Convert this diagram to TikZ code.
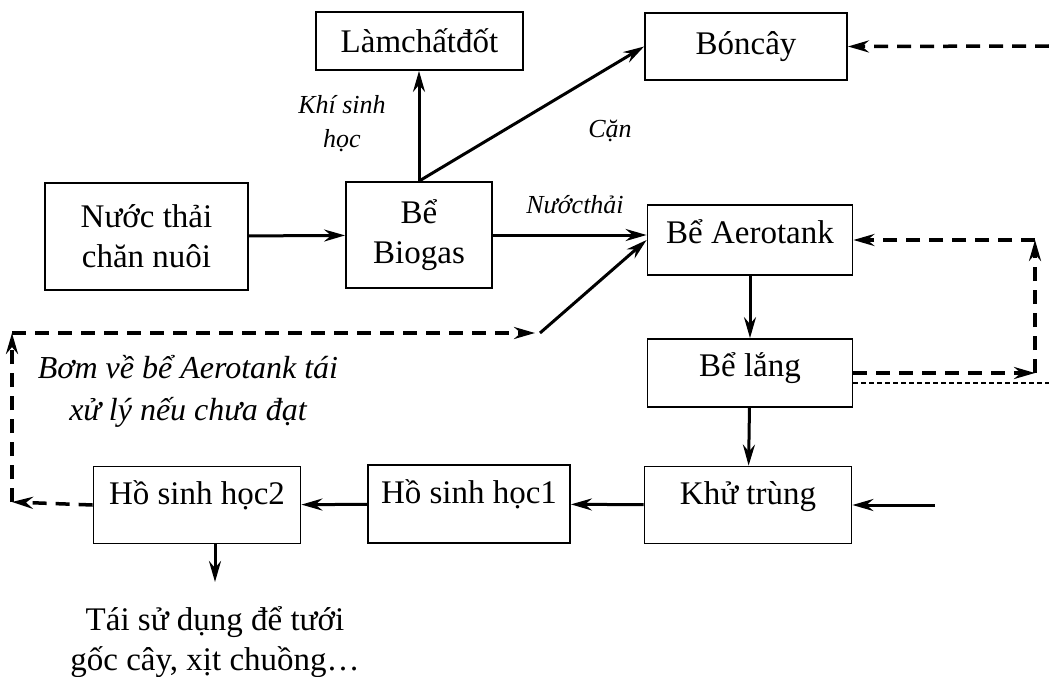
\documentclass[tikz,border=0pt]{standalone}
\usepackage{fontspec}
\setmainfont{Liberation Serif}
\usetikzlibrary{arrows.meta}
\tikzset{
  box/.style={draw,line width=1.8pt,inner sep=0pt,align=center,font=\fontsize{33}{40}\selectfont},
  lbl/.style={align=center,font=\fontsize{26}{42}\selectfont\itshape},
  flow/.style={->,line width=3pt},
  back/.style={->,line width=3.5pt,dash pattern=on 14pt off 9pt},
}
\begin{document}
\begin{tikzpicture}[x=1pt,y=-1pt,>={Stealth[length=21pt,width=12pt,inset=7pt]}]
\useasboundingbox (0,0) rectangle (1049,677);
\node[box,minimum width=207pt,minimum height=58pt] (fuel) at (419.5,41) {Làmchấtđốt};
\node[box,minimum width=202pt,minimum height=67pt] (fert) at (746,46.5) {Bóncây};
\node[box,minimum width=203pt,minimum height=107pt] (waste) at (146.5,236.5) {Nước thải\\chăn nuôi};
\node[box,minimum width=146pt,minimum height=106pt] (biogas) at (419,235) {Bể\\Biogas};
\node[box,minimum width=205pt,minimum height=70pt,text height=22pt,text depth=16pt] (aero) at (750,240) {Bể Aerotank};
\node[box,minimum width=205pt,minimum height=68pt,text height=22pt,text depth=16pt] (settle) at (750,373) {Bể lắng};
\node[box,minimum width=207pt,minimum height=77pt,text height=22pt,text depth=24pt] (disinf) at (748,505) {Khử trùng};
\node[box,minimum width=202pt,minimum height=78pt,text height=22pt,text depth=24pt] (pond1) at (469,504) {Hồ sinh học1};
\node[box,minimum width=207pt,minimum height=77pt,text height=22pt,text depth=24pt] (pond2) at (197,505) {Hồ sinh học2};
\node[align=center,font=\fontsize{33}{40}\selectfont] (reuse) at (215,642) {Tái sử dụng để tưới\\gốc cây, xịt chuồng…};
% labels
\node[lbl,font=\fontsize{26}{34}\selectfont\itshape] (gas) at (342,124) {Khí sinh\\học};
\node[lbl] (sludge) at (610,131) {Cặn};
\node[lbl] (water) at (575,205) {Nướcthải};
\node[lbl,font=\fontsize{32}{42}\selectfont\itshape] (pump) at (188,391) {Bơm về bể Aerotank tái\\xử lý nếu chưa đạt};
% free ends
\coordinate (jn) at (540,333);
\coordinate (ret1) at (12,502);
\coordinate (ret2) at (12,333);
\coordinate (ret3) at (535,333);
\coordinate (rl1) at (1035,373);
\coordinate (rl2) at (1035,240);
\coordinate (thin) at (1049,383);
\coordinate (topin) at (1049,46);
\coordinate (kin) at (935,505);
\coordinate (out) at (215,582);
% main flow
\draw[flow] (waste) -- (biogas);
\draw[flow] (biogas.east) -- (biogas.east -| aero.west);
\draw[flow] (biogas.north) -- (biogas.north |- fuel.south);
\draw[flow] (biogas.north) -- (fert.west);
\draw[flow] (aero) -- (settle);
\draw[flow] (settle) -- (disinf);
\draw[flow] (disinf) -- (pond1);
\draw[flow] (pond1) -- (pond2);
\draw[flow] (pond2.south -| out) -- (out);
\draw[flow] (kin) -- (disinf.east);
\draw[flow] (jn) -- (aero.west);
% return lines
\draw[back] (pond2.west) -- (ret1);
\draw[back] (ret1) -- (ret2);
\draw[back] (ret2) -- (ret3);
\draw[back] (settle.east) -- (rl1);
\draw[back] (rl1) -- (rl2);
\draw[back] (rl2) -- (aero.east);
\draw[back] (topin) -- (fert.east);
\draw[line width=1.2pt,dash pattern=on 5pt off 3pt] ([yshift=-10pt]settle.east) -- (thin);
\end{tikzpicture}
\end{document}
